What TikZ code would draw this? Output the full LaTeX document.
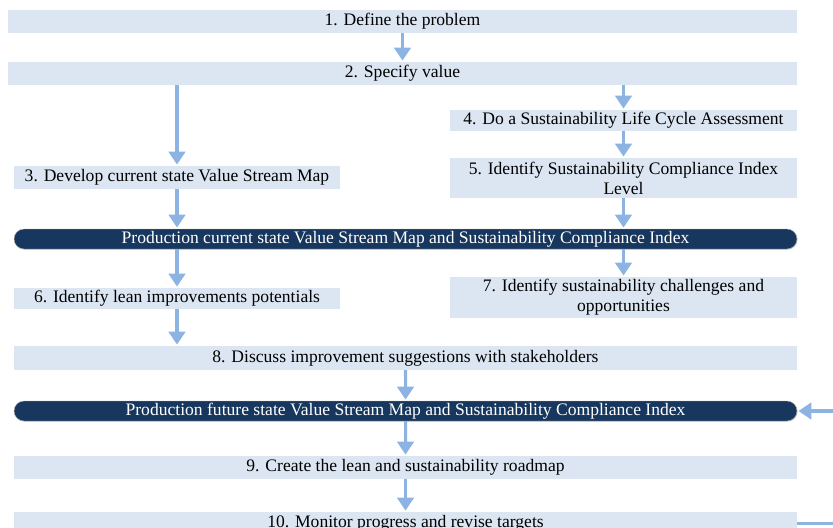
\documentclass[tikz,border=0pt]{standalone}
\usepackage{fontspec}
\setmainfont{Liberation Serif}
\usetikzlibrary{positioning}
\usetikzlibrary{shapes.misc, arrows.meta, shadows}

\definecolor{boxfill}{HTML}{DCE6F2}
\definecolor{flowblue}{HTML}{8DB3E2}
\definecolor{navy}{HTML}{17375E}
\newcommand{\px}{0.03cm}

\begin{document}
\begin{tikzpicture}[x=\px, y=-\px,
  stepbox/.style={fill=boxfill, inner sep=0pt, align=center,
    font=\fontsize{15}{17}\selectfont},
  statebar/.style={rounded rectangle, fill=navy, draw=gray!60, text=white,
    inner sep=0pt, minimum width=783*\px, minimum height=20*\px,
    font=\fontsize{15}{17}\selectfont,
    drop shadow={opacity=0.35, shadow xshift=0.6pt, shadow yshift=-0.6pt}},
  flow/.style={draw=flowblue, line width=2.6pt, shorten >=1pt,
    -{Triangle[width=14pt, length=11pt]}}]

\useasboundingbox (0,0) rectangle (833,528);

\node[stepbox, minimum width=789*\px, minimum height=23*\px] (define) at (402.5,21.5) {1. Define the problem};
\node[stepbox, minimum width=789*\px, minimum height=23*\px] (value) at (402.5,73.5) {2. Specify value};
\node[stepbox, minimum width=347*\px, minimum height=21*\px] (lca) at (623.5,120.5) {4. Do a Sustainability Life Cycle Assessment};
\node[stepbox, minimum width=347*\px, minimum height=40*\px] (sci) at (623.5,178) {5. Identify Sustainability Compliance Index\\Level};
\node[stepbox, minimum width=326*\px, minimum height=23*\px] (vsm) at (177,177.5) {3. Develop current state Value Stream Map};
\node[statebar] (current) at (405.5,239) {Production current state Value Stream Map and Sustainability Compliance Index};
\node[stepbox, minimum width=326*\px, minimum height=21*\px] (lean) at (177,298.5) {6. Identify lean improvements potentials};
\node[stepbox, minimum width=347*\px, minimum height=41*\px] (chall) at (623.5,297.5) {7. Identify sustainability challenges and\\opportunities};
\node[stepbox, minimum width=783*\px, minimum height=24*\px] (discuss) at (405.5,358) {8. Discuss improvement suggestions with stakeholders};
\node[statebar] (future) at (405.5,411) {Production future state Value Stream Map and Sustainability Compliance Index};
\node[stepbox, minimum width=783*\px, minimum height=23*\px] (roadmap) at (405.5,467.5) {9. Create the lean and sustainability roadmap};
\node[stepbox, minimum width=783*\px, minimum height=23*\px] (monitor) at (405.5,523.5) {10. Monitor progress and revise targets};

\draw[flow] (define) -- (value);
\draw[flow] (value.south -| vsm.north) -- (vsm);
\draw[flow] (value.south -| lca.north) -- (lca);
\draw[flow] (lca) -- (sci);
\draw[flow] (sci) -- (current.north -| sci.south);
\draw[flow] (vsm) -- (current.north -| vsm.south);
\draw[flow] (current.south -| lean.north) -- (lean);
\draw[flow] (current.south -| chall.north) -- (chall);
\draw[flow] (lean) -- (discuss.north -| lean.south);
\draw[flow] (discuss) -- (future);
\draw[flow] (future) -- (roadmap);
\draw[flow] (roadmap) -- (monitor);
\draw[flow] (monitor.east) -- ++(50,0) |- (future.east);

\end{tikzpicture}
\end{document}
